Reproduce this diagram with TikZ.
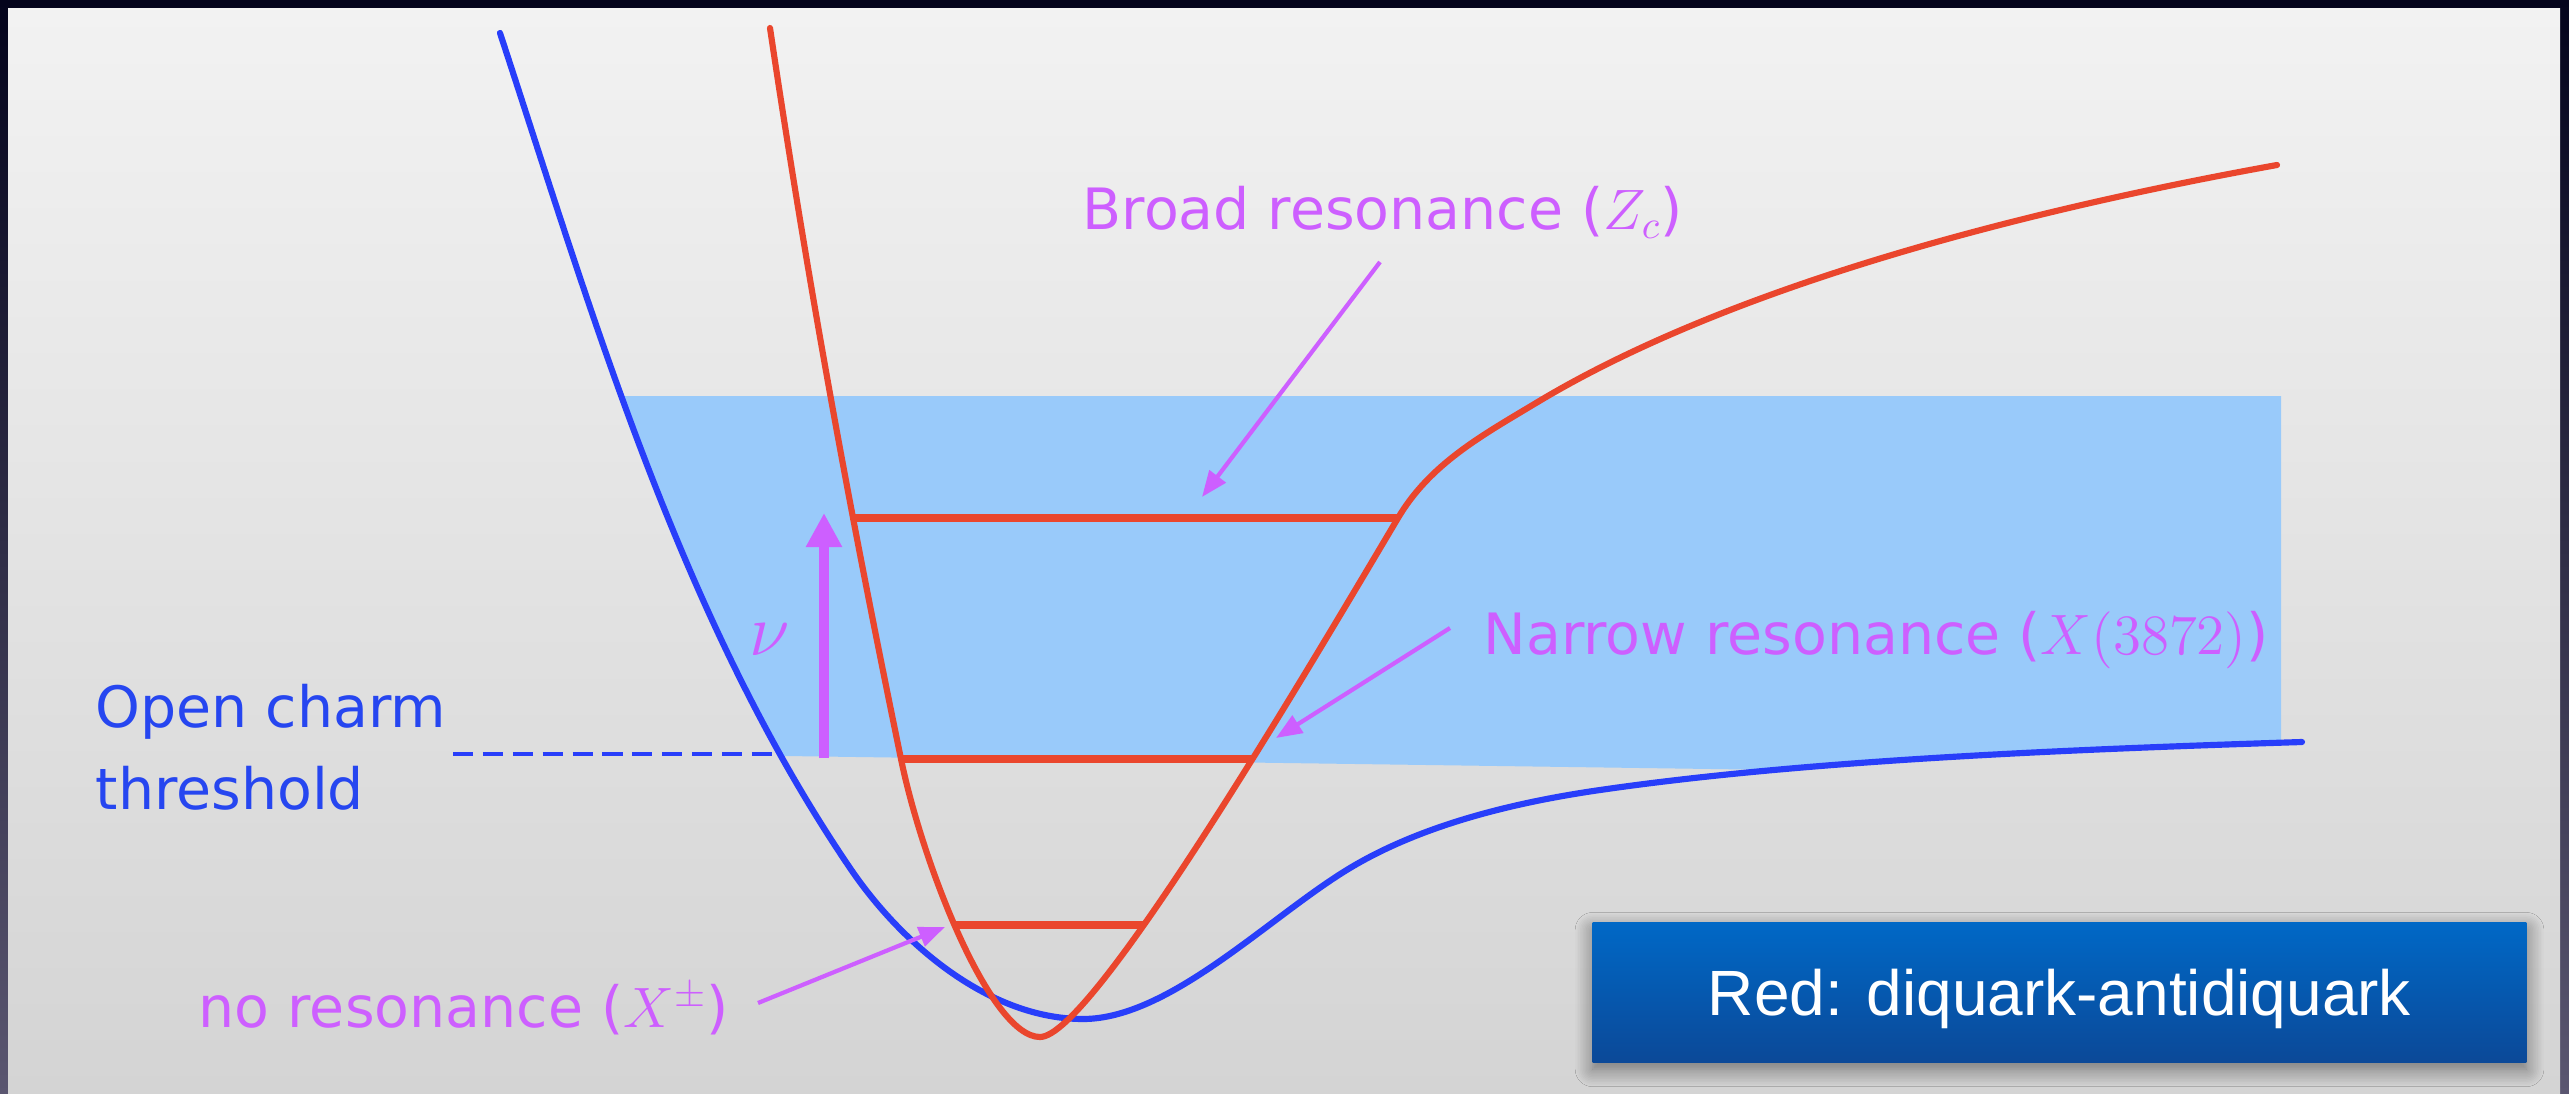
\RequirePackage{fix-cm}
\documentclass[tikz,border=0pt]{standalone}
\usepackage[no-math]{fontspec}
\setmainfont{DejaVu Sans}
\newfontfamily\boxfont{Liberation Sans}
\usetikzlibrary{arrows.meta,shadows.blur}

\definecolor{bandblue}{RGB}{153,202,250}
\definecolor{curvered}{RGB}{234,70,45}
\definecolor{curveblue}{RGB}{40,62,250}
\definecolor{labelviolet}{RGB}{205,95,255}
\definecolor{textblue}{RGB}{38,70,240}
\definecolor{boxtop}{RGB}{0,104,198}
\definecolor{boxbot}{RGB}{11,73,152}
\definecolor{framedark}{RGB}{4,4,28}
\definecolor{framelight}{RGB}{90,86,112}
\definecolor{paneltop}{RGB}{242,242,242}
\definecolor{panelbot}{RGB}{212,212,212}

\tikzset{
  redcurve/.style={draw=curvered, line width=1.75pt, line join=round, line cap=round},
  bluecurve/.style={draw=curveblue, line width=1.75pt, line join=round, line cap=round},
  levelline/.style={draw=curvered, line width=2pt},
  pointer/.style={draw=labelviolet, line width=1.2pt, -{Triangle[length=0.26cm,width=0.2cm]}},
  bigarrow/.style={draw=labelviolet, line width=2.6pt, -{Triangle[length=0.34cm,width=0.34cm]}},
  lbl/.style={text=labelviolet, inner sep=0pt, anchor=base west, font=\fontsize{16.2pt}{19pt}\selectfont},
  thr/.style={text=textblue, inner sep=0pt, anchor=base west, font=\fontsize{16.2pt}{19pt}\selectfont},
  legendbox/.style={rectangle, inner sep=0pt, minimum width=9.33cm, minimum height=1.39cm,
    top color=boxtop, bottom color=boxbot, text=white,
    text height=0.45cm, text depth=0cm,
    font=\boxfont\fontsize{18.2pt}{21pt}\selectfont,
    blur shadow={shadow xshift=0pt, shadow yshift=-2pt, shadow blur radius=5pt, shadow blur steps=12, shadow opacity=50}}
}

\begin{document}
\begin{tikzpicture}[x=0.01cm,y=-0.01cm]
\useasboundingbox (0,0) rectangle (2569,1094);
% frame and panel
\shade[top color=framedark, bottom color=framelight] (0,0) rectangle (2569,1094);
\shade[top color=paneltop, bottom color=panelbot] (8,9) rectangle (2560,1094);

% band above threshold, bounded by the blue curve
\begin{scope}
  \clip (500,33) .. controls (592,313) and (680,618) .. (850,868)
        .. controls (902,945) and (990,1019) .. (1083,1019)
        .. controls (1170,1019) and (1270,916) .. (1350,868)
        .. controls (1420,826) and (1510,803) .. (1600,790)
        .. controls (1800,761) and (2050,750) .. (2302,742)
        -- (2400,742) -- (2400,0) -- (500,0) -- cycle;
  \fill[bandblue] (500,396) -- (2281,396) -- (2281,777) -- (500,752) -- cycle;
\end{scope}

% threshold dashed line
\coordinate (thrA) at (453,754);
\coordinate (thrB) at (779,754);
\draw[draw=curveblue, line width=1.4pt, dash pattern=on 5.7pt off 2.8pt] (thrA) -- (thrB);

% curves
\draw[bluecurve] (500,33) .. controls (592,313) and (680,618) .. (850,868)
        .. controls (902,945) and (990,1019) .. (1083,1019)
        .. controls (1170,1019) and (1270,916) .. (1350,868)
        .. controls (1420,826) and (1510,803) .. (1600,790)
        .. controls (1800,761) and (2050,750) .. (2302,742);
\draw[redcurve] (770,28) .. controls (815,330) and (860,560) .. (901,759)
        .. controls (922,862) and (990,1037) .. (1040,1037)
        .. controls (1090,1037) and (1290,700) .. (1398,518)
        .. controls (1430,464) and (1481,436) .. (1536,403)
        .. controls (1720,292) and (2000,215) .. (2277,165);

% levels
\coordinate (L1a) at (853,518);  \coordinate (L1b) at (1398,518);
\coordinate (L2a) at (901,759);  \coordinate (L2b) at (1253,759);
\coordinate (L3a) at (955,925);  \coordinate (L3b) at (1144,925);
\draw[levelline] (L1a) -- (L1b);
\draw[levelline] (L2a) -- (L2b);
\draw[levelline] (L3a) -- (L3b);

% nu arrow
\coordinate (nuBase) at (824,758);
\coordinate (nuTip) at (824,513);
\draw[bigarrow] (nuBase) -- (nuTip);
\node[text=labelviolet, inner sep=0pt, font=\fontsize{21pt}{24pt}\selectfont] (nu) at (770,640) {$\nu$};

% labels
\node[thr] (oc1) at (95,727) {Open charm};
\node[thr] (oc2) at (95,809) {threshold};
\node[lbl] (broad) at (1082,230) {Broad resonance ($Z_c$)};
\node[lbl] (narrow) at (1483,654) {Narrow resonance ($X(3872)$)};
\node[lbl] (nores) at (198,1027) {no resonance ($X^{\pm}$)};

% pointers
\coordinate (broadS) at (1380,262);  \coordinate (broadT) at (1202,497);
\coordinate (narrowS) at (1450,628); \coordinate (narrowT) at (1276,738);
\coordinate (noresS) at (758,1003);  \coordinate (noresT) at (945,927);
\draw[pointer] (broadS) -- (broadT);
\draw[pointer] (narrowS) -- (narrowT);
\draw[pointer] (noresS) -- (noresT);

% legend box
\node[legendbox] (legend) at (2059.5,992.5) {Red: diquark-antidiquark};
\end{tikzpicture}
\end{document}
